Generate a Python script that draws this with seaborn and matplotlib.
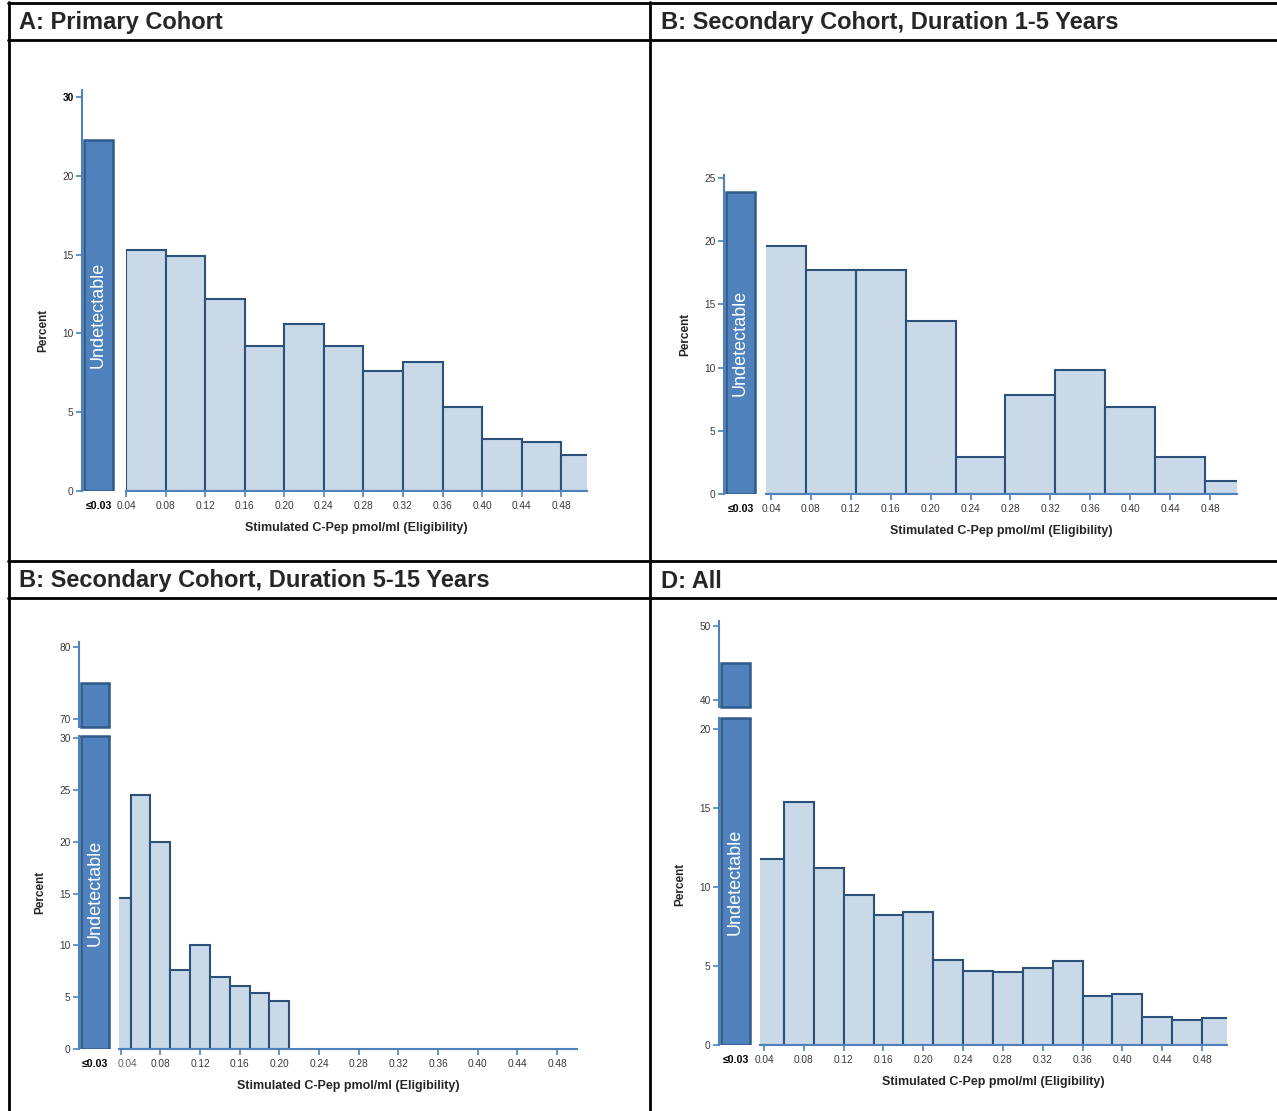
import numpy as np
import pandas as pd
import seaborn as sns
import matplotlib.pyplot as plt
import matplotlib.transforms as mtransforms
from matplotlib.lines import Line2D

sns.set_style("white")
plt.rcParams['font.family'] = ['Liberation Sans', 'DejaVu Sans']

W, H = 1277, 1111

titles = ["A: Primary Cohort",
          "B: Secondary Cohort, Duration 1-5 Years",
          "B: Secondary Cohort, Duration 5-15 Years",
          "D: All"]

x_ticks = [0.04, 0.08, 0.12, 0.16, 0.20, 0.24, 0.28, 0.32, 0.36, 0.40, 0.44, 0.48]
x_ticklabels = ["0.04", "0.08", "0.12", "0.16", "0.20", "0.24",
                "0.28", "0.32", "0.36", "0.40", "0.44", "0.48"]
undet_label = "≤0.03"
undet_text = "Undetectable"
x_title = "Stimulated C-Pep pmol/ml (Eligibility)"
y_title = "Percent"

# A: primary cohort
a_edges = [0.04, 0.08, 0.12, 0.16, 0.20, 0.24, 0.28, 0.32, 0.36, 0.40, 0.44, 0.48, 0.52]
a_pct = [15.3, 14.9, 12.2, 9.2, 10.6, 9.2, 7.6, 8.2, 5.3, 3.3, 3.1, 2.3]
a_undet = 22.3

# B: secondary cohort 1-5 years
b_edges = [0.025, 0.075, 0.125, 0.175, 0.225, 0.275, 0.325, 0.375, 0.425, 0.475, 0.525]
b_pct = [19.6, 17.7, 17.7, 13.7, 2.9, 7.8, 9.8, 6.9, 2.9, 1.0]
b_undet = 23.9

# C: secondary cohort 5-15 years
c_edges = [0.03, 0.05, 0.07, 0.09, 0.11, 0.13, 0.15, 0.17, 0.19, 0.21]
c_pct = [14.6, 24.5, 20.0, 7.6, 10.0, 6.9, 6.1, 5.4, 4.6]
c_undet = 75.0

# D: all
d_edges = [0.03, 0.06, 0.09, 0.12, 0.15, 0.18, 0.21, 0.24, 0.27, 0.30,
           0.33, 0.36, 0.39, 0.42, 0.45, 0.48, 0.51]
d_pct = [11.8, 15.4, 11.2, 9.5, 8.2, 8.4, 5.4, 4.7, 4.6, 4.9, 5.3, 3.1, 3.2, 1.8, 1.6, 1.7]
d_undet = 45.0

ud_fill = "#4f81bd"
ud_edge = "#2f5b8a"
bar_fill = "#c9d9e8"
bar_edge = "#2c5079"
axis_blue = "#4f81bd"
tick_col = "#3a3a3a"

fig = plt.figure(figsize=(W / 100, H / 100), dpi=100)


def px_axes(x0, x1, y_top, y_bot):
    return fig.add_axes([x0 / W, 1 - y_bot / H, (x1 - x0) / W, (y_bot - y_top) / H])


def style_y(ax, lim, ticks, labels=None):
    ax.set_ylim(*lim)
    ax.set_yticks(ticks)
    ax.set_yticklabels(labels if labels else [str(t) for t in ticks], fontsize=7.3, color=tick_col)
    for s in ["top", "right", "bottom"]:
        ax.spines[s].set_visible(False)
    ax.spines["left"].set_color(axis_blue)
    ax.spines["left"].set_linewidth(1.5)
    ax.tick_params(axis="y", length=4, width=1.2, color=axis_blue, pad=2, left=True)
    ax.set_ylabel("")


def undet_bar(ax, value):
    sns.barplot(x=[undet_label], y=[value], ax=ax, color=ud_fill, edgecolor=ud_edge,
                linewidth=1.8, width=0.88, saturation=1)
    ax.set_xlim(-0.5, 0.5)
    ax.set_xlabel("")


def panel(edges, pct, undet, cfg):
    ylo, ybot = cfg["low"]
    # undetectable bar (lower part)
    ud = px_axes(cfg["ax_x"], cfg["ud_x1"], ylo, ybot)
    undet_bar(ud, undet)
    style_y(ud, cfg["low_lim"], cfg["low_ticks"], cfg.get("low_labels"))
    ud.tick_params(axis="x", length=0, pad=7.5)
    for lab in ud.get_xticklabels():
        lab.set_fontweight("bold")
        lab.set_fontsize(7.6)
        lab.set_color("black")
    ud.text(0, cfg["text_y"], undet_text, rotation=90, ha="center", va="center",
            color="white", fontsize=13)
    ud.text(-39 / (cfg["ud_x1"] - cfg["ax_x"]), cfg["ylab_y"], y_title, transform=ud.transAxes,
            rotation=90, ha="center", va="center", fontsize=8.5, fontweight="bold")
    if cfg.get("top_bold"):
        ud.get_yticklabels()[-1].set_color("black")
        ud.get_yticklabels()[-1].set_fontweight("bold")

    if "up" in cfg:
        ytop, ybot2 = cfg["up"]
        up = px_axes(cfg["ax_x"], cfg["ud_x1"], ytop, ybot2)
        undet_bar(up, undet)
        style_y(up, cfg["up_lim"], cfg["up_ticks"])
        up.set_xticks([])
        # edges where the bar is cut by the axis break
        up.spines["bottom"].set_visible(True)
        up.spines["bottom"].set_color(ud_edge)
        up.spines["bottom"].set_linewidth(1.8)
        up.spines["bottom"].set_bounds(-0.44, 0.44)
        ud.spines["top"].set_visible(True)
        ud.spines["top"].set_color(ud_edge)
        ud.spines["top"].set_linewidth(1.8)
        ud.spines["top"].set_bounds(-0.44, 0.44)

    # distribution of detectable values
    mn = px_axes(cfg["mx0"], cfg["mx1"], ylo, ybot)
    centers = (np.array(edges[:-1]) + np.array(edges[1:])) / 2
    df = pd.DataFrame({"cpep": centers, "pct": pct})
    sns.histplot(data=df, x="cpep", weights="pct", bins=edges, ax=mn, stat="count",
                 color=bar_fill, edgecolor=bar_edge, linewidth=1.5, alpha=1)
    mn.set_xlim(*cfg["xlim"])
    mn.set_ylim(*cfg["low_lim"])
    for s in ["top", "right", "left"]:
        mn.spines[s].set_visible(False)
    mn.spines["bottom"].set_color(axis_blue)
    mn.spines["bottom"].set_linewidth(1.5)
    mn.set_yticks([])
    mn.set_ylabel("")
    mn.set_xticks(x_ticks)
    mn.set_xticklabels(x_ticklabels, fontsize=7.3, color=tick_col)
    mn.tick_params(axis="x", length=4, width=1.2, color=axis_blue, pad=3.5, bottom=True)
    mn.set_xlabel(x_title, fontsize=9, fontweight="bold", labelpad=7.5)
    if cfg.get("nudge_first"):
        # first label is pushed right, away from the "≤0.03" label
        first = mn.get_xticklabels()[0]
        first.set_transform(first.get_transform() +
                            mtransforms.ScaledTranslation(cfg["nudge_first"] / 100, 0, fig.dpi_scale_trans))
        first.set_color("#666666")


panel(a_edges, a_pct, a_undet, dict(
    ax_x=82, ud_x1=115, mx0=126, mx1=587, xlim=(0.04, 0.506),
    low=(90, 491), low_lim=(0, 25.45), low_ticks=[0, 5, 10, 15, 20, 25],
    low_labels=["0", "5", "10", "15", "20", "30"], top_bold=True,
    text_y=a_undet / 2, ylab_y=0.40))

panel(b_edges, b_pct, b_undet, dict(
    ax_x=724, ud_x1=757, mx0=766, mx1=1237, xlim=(0.035, 0.507),
    low=(175, 494), low_lim=(0, 25.25), low_ticks=[0, 5, 10, 15, 20, 25],
    text_y=b_undet / 2, ylab_y=0.50))

panel(c_edges, c_pct, c_undet, dict(
    ax_x=79, ud_x1=111, mx0=119, mx1=577, xlim=(0.0383, 0.50),
    low=(736, 1049), low_lim=(0, 30.2), low_ticks=[0, 5, 10, 15, 20, 25, 30],
    up=(642, 727), up_lim=(68.9, 80.7), up_ticks=[70, 80],
    text_y=15.1, ylab_y=0.50, nudge_first=7))

panel(d_edges, d_pct, d_undet, dict(
    ax_x=719, ud_x1=752, mx0=760, mx1=1227, xlim=(0.036, 0.505),
    low=(718, 1045), low_lim=(0, 20.7), low_ticks=[0, 5, 10, 15, 20],
    up=(621, 707), up_lim=(39.0, 50.7), up_ticks=[40, 50],
    text_y=10.35, ylab_y=0.49))

# table frame around the four panels
def hline(y, x0=8, x1=W):
    fig.add_artist(Line2D([x0 / W, x1 / W], [1 - y / H, 1 - y / H], color="black", lw=2))


def vline(x, y0=2, y1=H):
    fig.add_artist(Line2D([x / W, x / W], [1 - y0 / H, 1 - y1 / H], color="black", lw=2))


for y in [2.5, 40, 561, 598]:
    hline(y)
vline(8.5)
vline(650)

for (tx, ty), t in zip([(19, 22), (661, 22), (19, 581), (661, 581)], titles):
    fig.text(tx / W, 1 - ty / H, t, ha="left", va="center", fontsize=17, fontweight="bold")

fig.savefig("out.png", dpi=100)
